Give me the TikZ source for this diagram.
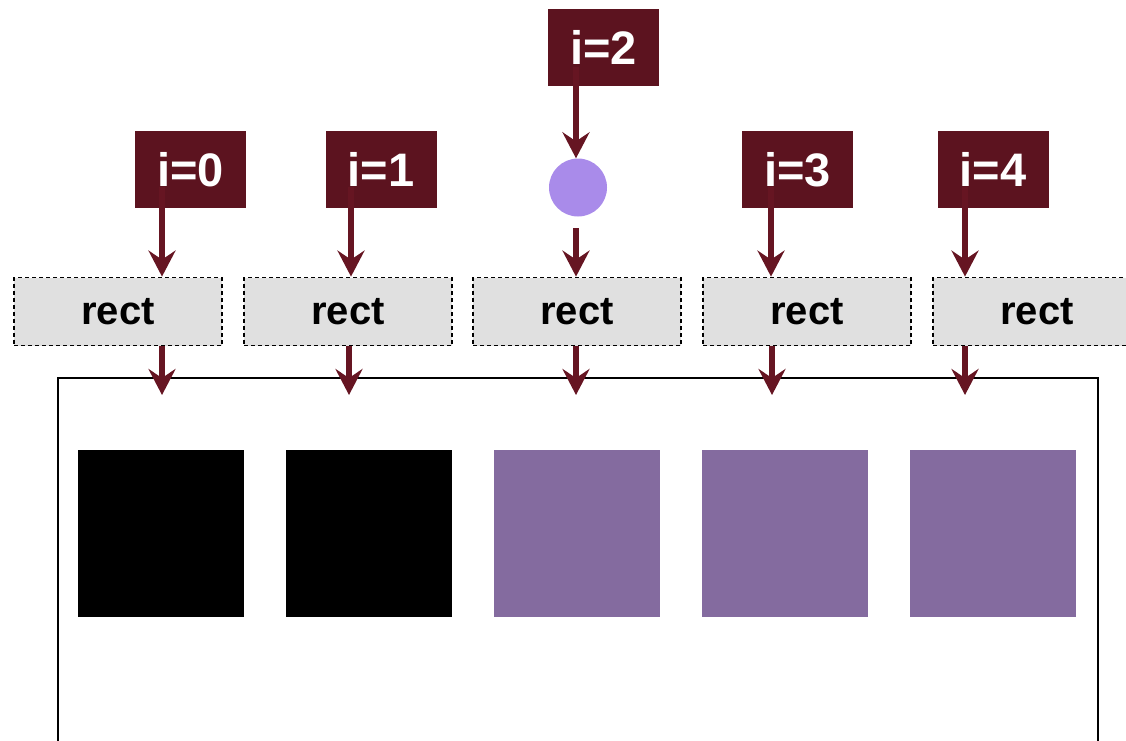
\documentclass[tikz,border=0pt]{standalone}
\usepackage{fontspec}
\setmainfont{Liberation Sans}
\usetikzlibrary{arrows.meta}
\definecolor{labred}{HTML}{5C131F}
\definecolor{arrred}{HTML}{661522}
\definecolor{rectgray}{HTML}{E0E0E0}
\definecolor{dotpurple}{HTML}{A98BEA}
\definecolor{sqpurple}{HTML}{846B9F}
\tikzset{
  labbox/.style={fill=labred, draw=none, minimum width=111pt, minimum height=77pt, inner sep=0pt,
    text=white, font=\fontsize{47}{50}\selectfont\bfseries},
  rectbox/.style={fill=rectgray, draw=black, line width=1.8pt, dash pattern=on 4pt off 3pt,
    minimum width=208pt, minimum height=68pt, inner sep=0pt, font=\fontsize{40}{44}\selectfont\bfseries},
  sqbox/.style={draw=none, minimum width=166.5pt, minimum height=166.5pt, inner sep=0pt},
  arr/.style={draw=arrred, line width=6pt, -{Stealth[length=26pt,width=27pt,inset=9pt]}},
}
\begin{document}
\begin{tikzpicture}[x=1pt,y=-1pt]
\useasboundingbox (0,0) rectangle (1126,740);
% frame
\node[draw=black, line width=2pt, minimum width=1040pt, minimum height=400pt, inner sep=0pt] (frame) at (578,578) {};
% squares
\node[sqbox, fill=black] (s0) at (161,533.5) {};
\node[sqbox, fill=black] (s1) at (369,533.5) {};
\node[sqbox, fill=sqpurple] (s2) at (577,533.5) {};
\node[sqbox, fill=sqpurple] (s3) at (785,533.5) {};
\node[sqbox, fill=sqpurple] (s4) at (993,533.5) {};
% rects
\node[rectbox] (r0) at (118,311.5) {\raisebox{-2pt}{rect}};
\node[rectbox] (r1) at (348,311.5) {\raisebox{-2pt}{rect}};
\node[rectbox] (r2) at (577,311.5) {\raisebox{-2pt}{rect}};
\node[rectbox] (r3) at (807,311.5) {\raisebox{-2pt}{rect}};
\node[rectbox] (r4) at (1037,311.5) {\raisebox{-2pt}{rect}};
% arrow start coordinates
\coordinate (a0) at (162,187);
\coordinate (a1) at (351,187);
\coordinate (a2) at (576,67);
\coordinate (d2) at (576,228);
\coordinate (a3) at (771,187);
\coordinate (a4) at (965,187);
\coordinate (e0) at (162,395);
\coordinate (e1) at (349,395);
\coordinate (e2) at (576,395);
\coordinate (e3) at (772,395);
\coordinate (e4) at (965,395);
% labels
\node[labbox] (l0) at (190.8,169.5) {i=0};
\node[labbox] (l1) at (381,169.5) {i=1};
\node[labbox] (l2) at (603.5,47.5) {i=2};
\node[labbox] (l3) at (797.5,169.5) {i=3};
\node[labbox] (l4) at (993,169.5) {i=4};
% circle
\node[circle, fill=dotpurple, draw=none, minimum size=58pt, inner sep=0pt] (c) at (578,187.5) {};
% arrows
\draw[arr] (a0) -- (a0 |- r0.north);
\draw[arr] (a1) -- (a1 |- r1.north);
\draw[arr] (a2) -- (a2 |- c.north);
\draw[arr] (d2) -- (d2 |- r2.north);
\draw[arr] (a3) -- (a3 |- r3.north);
\draw[arr] (a4) -- (a4 |- r4.north);
\draw[arr] (e0 |- r0.south) -- (e0);
\draw[arr] (e1 |- r1.south) -- (e1);
\draw[arr] (e2 |- r2.south) -- (e2);
\draw[arr] (e3 |- r3.south) -- (e3);
\draw[arr] (e4 |- r4.south) -- (e4);
\end{tikzpicture}
\end{document}
